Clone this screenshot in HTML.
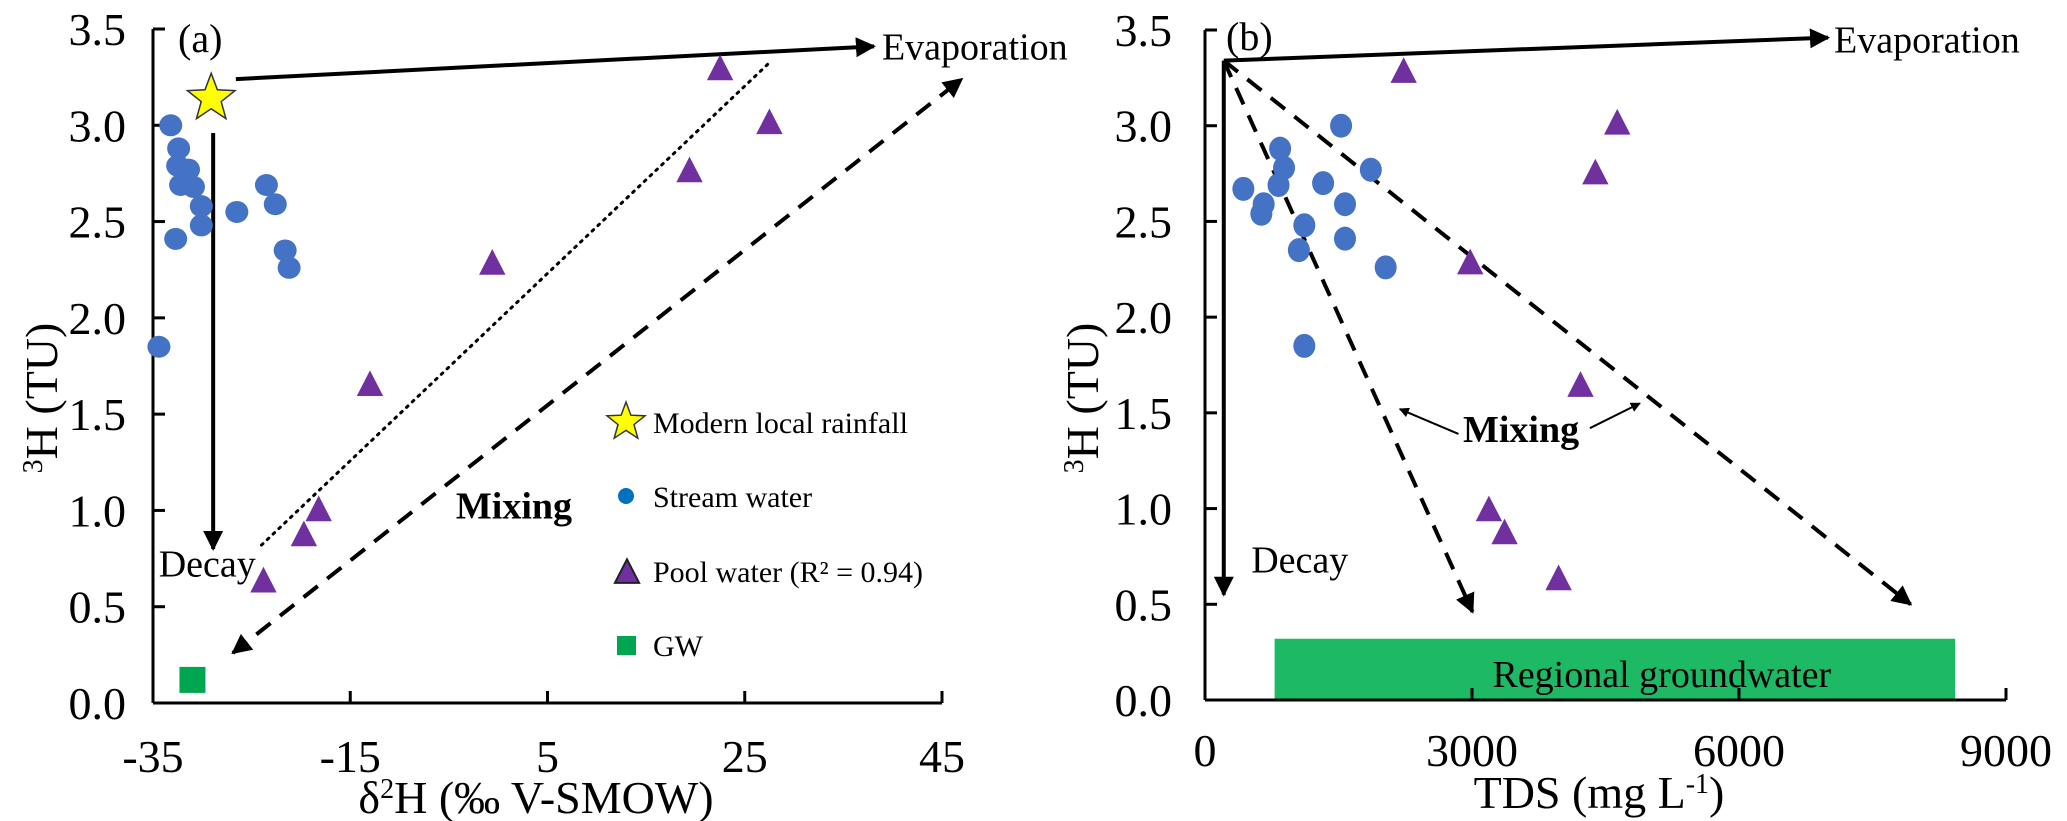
<!DOCTYPE html>
<html><head><meta charset="utf-8"><style>
html,body{margin:0;padding:0;background:#fff}
svg{display:block}
svg text{font-family:"Liberation Serif","DejaVu Serif",serif}
</style></head><body>
<svg id="chart" width="2067" height="821" viewBox="0 0 2067 821" font-family="Liberation Serif, serif" xmlns="http://www.w3.org/2000/svg">
<defs>
<marker id="ah" viewBox="0 0 10 10" refX="9" refY="5" markerWidth="5" markerHeight="5" orient="auto-start-reverse"><path d="M0,0 L10,5 L0,10 z" fill="#000"/></marker>
</defs>
<g id="pa"></g>
<g id="pb"></g>
</svg>
<script>
// ---- Panel A data ----
const aStreamX = [-33.2,-32.4,-32.5,-31.4,-32.2,-30.9,-30.1,-30.1,-32.7,-26.5,-23.5,-22.6,-21.6,-21.2,-34.4];
const aStreamY = [3.00,2.88,2.79,2.77,2.69,2.68,2.58,2.48,2.41,2.55,2.69,2.59,2.35,2.26,1.85];
const aPoolX = [22.5,27.5,19.4,-0.6,-13.0,-18.2,-19.7,-23.8];
const aPoolY = [3.29,3.01,2.76,2.28,1.65,1.00,0.87,0.63];
const aRainX = [-29.1]; const aRainY = [3.14];
const aGwX = [-31.0]; const aGwY = [0.12];
const aXTicks = [-35,-15,5,25,45];
const yTicks = [0,0.5,1,1.5,2,2.5,3,3.5];
// ---- Panel B data ----
const bStreamX = [1529,844,888,826,431,659,633,1327,1863,1573,1116,1573,1055,2030,1116];
const bStreamY = [3.00,2.88,2.78,2.69,2.67,2.59,2.54,2.70,2.77,2.59,2.48,2.41,2.35,2.26,1.85];
const bPoolX = [2232,4632,4386,2980,4219,3190,3366,3973];
const bPoolY = [3.28,3.01,2.75,2.28,1.64,0.99,0.87,0.63];
const bXTicks = [0,3000,6000,9000];

const NS="http://www.w3.org/2000/svg";
function mk(parent,tag,attrs,text){const e=document.createElementNS(NS,tag);for(const k in attrs)e.setAttribute(k,attrs[k]);if(text!==undefined)e.textContent=text;parent.appendChild(e);return e;}

const ax = v => 153 + (v+35)*(789/80);
const ay = v => 703 - v*(674/3.5);
const bx = v => 1205 + v*(801/9000);
const by = v => 700 - v*(670/3.5);

function fmt(v){return v.toFixed(1);}
function star(cx,cy,R){let p=[];for(let i=0;i<10;i++){const r=i%2?R*0.42:R;const a=-Math.PI/2+i*Math.PI/5;p.push((cx+r*Math.cos(a)).toFixed(1)+","+(cy+r*Math.sin(a)).toFixed(1));}return p.join(" ");}
function tri(cx,cy,s){return `${cx},${cy-s*0.62} ${cx-s*0.55},${cy+s*0.45} ${cx+s*0.55},${cy+s*0.45}`;}

// ===== Panel A =====
const A=document.getElementById('pa');
let e;
e=mk(A,'line',{x1:153,y1:ay(3.5),x2:153,y2:ay(0),stroke:'#000','stroke-width':3});

e=mk(A,'line',{x1:153,y1:ay(0),x2:ax(45),y2:ay(0),stroke:'#000','stroke-width':3});

yTicks.forEach(v=>{
  e=mk(A,'line',{x1:153,y1:ay(v),x2:165,y2:ay(v),stroke:'#000','stroke-width':3});
  
  e=mk(A,'text',{x:126,y:ay(v)+16,'font-size':46,'text-anchor':'end'},fmt(v));
  
});
aXTicks.forEach(v=>{
  e=mk(A,'line',{x1:ax(v),y1:ay(0),x2:ax(v),y2:ay(0)-12,stroke:'#000','stroke-width':3});
  
  e=mk(A,'text',{x:ax(v),y:772,'font-size':46,'text-anchor':'middle'},String(v));
  
});
e=mk(A,'text',{x:536,y:813,'font-size':46,'text-anchor':'middle'});
e.innerHTML='δ<tspan baseline-shift="super" font-size="28">2</tspan>H (‰ V-SMOW)';

e=mk(A,'text',{x:0,y:0,'font-size':46,'text-anchor':'middle',transform:'translate(57,398) rotate(-90)'});
e.innerHTML='<tspan baseline-shift="super" font-size="28">3</tspan>H (TU)';

e=mk(A,'text',{x:178,y:52,'font-size':40},'(a)');

e=mk(A,'line',{x1:ax(-26.6),y1:ay(3.24),x2:ax(38.1),y2:ay(3.41),stroke:'#000','stroke-width':4,'marker-end':'url(#ah)'});

e=mk(A,'text',{x:ax(38.1)+8,y:ay(3.41)+13,'font-size':38},'Evaporation');

e=mk(A,'line',{x1:ax(-28.9),y1:ay(2.96),x2:ax(-28.9),y2:ay(0.80),stroke:'#000','stroke-width':4,'marker-end':'url(#ah)'});

e=mk(A,'text',{x:ax(-29.5),y:ay(0.73)+14,'font-size':38,'text-anchor':'middle'},'Decay');

e=mk(A,'line',{x1:ax(-24),y1:ay(0.82),x2:ax(27.6),y2:ay(3.33),stroke:'#000','stroke-width':3,'stroke-dasharray':'2 6','stroke-linecap':'round'});

e=mk(A,'line',{x1:ax(-26.9),y1:ay(0.26),x2:ax(47),y2:ay(3.24),stroke:'#000','stroke-width':4,'stroke-dasharray':'18 12','marker-end':'url(#ah)','marker-start':'url(#ah)'});

e=mk(A,'text',{x:ax(1.6),y:ay(1.03)+14,'font-size':38,'font-weight':'bold','text-anchor':'middle'},'Mixing');

aStreamX.forEach((v,i)=>{e=mk(A,'ellipse',{cx:ax(v),cy:ay(aStreamY[i]),rx:11.5,ry:11,fill:'#4472C4'});
  });
aPoolX.forEach((v,i)=>{e=mk(A,'polygon',{points:tri(ax(v),ay(aPoolY[i]),24),fill:'#7030A0'});
  });
aRainX.forEach((v,i)=>{e=mk(A,'polygon',{points:star(ax(v),ay(aRainY[i]),25),fill:'#FFFF00',stroke:'#333','stroke-width':1.5});
  });
aGwX.forEach((v,i)=>{e=mk(A,'rect',{x:ax(v)-13,y:ay(aGwY[i])-13,width:26,height:26,fill:'#00A550'});
  });
const L=mk(A,'g',{});

e=mk(L,'polygon',{points:star(626,422,20),fill:'#FFFF00',stroke:'#333','stroke-width':1.5});

e=mk(L,'circle',{cx:626,cy:496,r:8,fill:'#0070C0'});

e=mk(L,'polygon',{points:tri(627,573,22),fill:'#7030A0',stroke:'#222','stroke-width':2});

e=mk(L,'rect',{x:617,y:636,width:19,height:19,fill:'#00A550'});

[['Modern local rainfall',422],['Stream water',496],['Pool water (R² = 0.94)',571],['GW',645]].forEach(t=>{
  e=mk(L,'text',{x:653,y:t[1]+11,'font-size':30},t[0]);
  
});

// ===== Panel B =====
const B=document.getElementById('pb');
e=mk(B,'rect',{x:bx(782),y:by(0.32),width:bx(8428)-bx(782),height:by(0)-by(0.32),fill:'#1DB964'});

e=mk(B,'text',{x:bx(5133),y:by(0.14)+14,'font-size':38,'text-anchor':'middle'},'Regional groundwater');

e=mk(B,'line',{x1:1205,y1:by(3.5),x2:1205,y2:by(0),stroke:'#000','stroke-width':3});

e=mk(B,'line',{x1:1205,y1:by(0),x2:bx(9000),y2:by(0),stroke:'#000','stroke-width':3});

yTicks.forEach(v=>{
  e=mk(B,'line',{x1:1205,y1:by(v),x2:1217,y2:by(v),stroke:'#000','stroke-width':3});
  
  e=mk(B,'text',{x:1172,y:by(v)+16,'font-size':46,'text-anchor':'end'},fmt(v));
  
});
bXTicks.forEach(v=>{
  e=mk(B,'line',{x1:bx(v),y1:by(0),x2:bx(v),y2:by(0)-12,stroke:'#000','stroke-width':3});
  
  e=mk(B,'text',{x:bx(v),y:766,'font-size':46,'text-anchor':'middle'},String(v));
  
});
e=mk(B,'text',{x:1599,y:808,'font-size':46,'text-anchor':'middle'});
e.innerHTML='TDS (mg L<tspan baseline-shift="super" font-size="28">-1</tspan>)';

e=mk(B,'text',{x:0,y:0,'font-size':46,'text-anchor':'middle',transform:'translate(1098,398) rotate(-90)'});
e.innerHTML='<tspan baseline-shift="super" font-size="28">3</tspan>H (TU)';

e=mk(B,'text',{x:1226,y:50,'font-size':40},'(b)');

const ox=bx(211), oy=by(3.34);
e=mk(B,'line',{x1:ox,y1:oy,x2:bx(7000),y2:by(3.46),stroke:'#000','stroke-width':4,'marker-end':'url(#ah)'});

e=mk(B,'text',{x:bx(7000)+6,y:by(3.46)+15,'font-size':38},'Evaporation');

e=mk(B,'line',{x1:ox,y1:oy,x2:ox,y2:by(0.55),stroke:'#000','stroke-width':4,'marker-end':'url(#ah)'});

e=mk(B,'text',{x:bx(519),y:by(0.74)+14,'font-size':38},'Decay');

e=mk(B,'line',{x1:ox,y1:oy,x2:bx(3006),y2:by(0.46),stroke:'#000','stroke-width':4,'stroke-dasharray':'18 12','marker-end':'url(#ah)'});

e=mk(B,'line',{x1:ox,y1:oy,x2:bx(7928),y2:by(0.50),stroke:'#000','stroke-width':4,'stroke-dasharray':'18 12','marker-end':'url(#ah)'});

e=mk(B,'text',{x:bx(3551),y:by(1.42)+14,'font-size':38,'font-weight':'bold','text-anchor':'middle'},'Mixing');

e=mk(B,'line',{x1:bx(2848),y1:by(1.39),x2:bx(2188),y2:by(1.52),stroke:'#000','stroke-width':2,'marker-end':'url(#ah)'});

e=mk(B,'line',{x1:bx(4324),y1:by(1.42),x2:bx(4887),y2:by(1.55),stroke:'#000','stroke-width':2,'marker-end':'url(#ah)'});

bStreamX.forEach((v,i)=>{e=mk(B,'ellipse',{cx:bx(v),cy:by(bStreamY[i]),rx:11,ry:12,fill:'#4472C4'});
  });
bPoolX.forEach((v,i)=>{e=mk(B,'polygon',{points:tri(bx(v),by(bPoolY[i]),24),fill:'#7030A0'});
  });
</script>
</body></html>
